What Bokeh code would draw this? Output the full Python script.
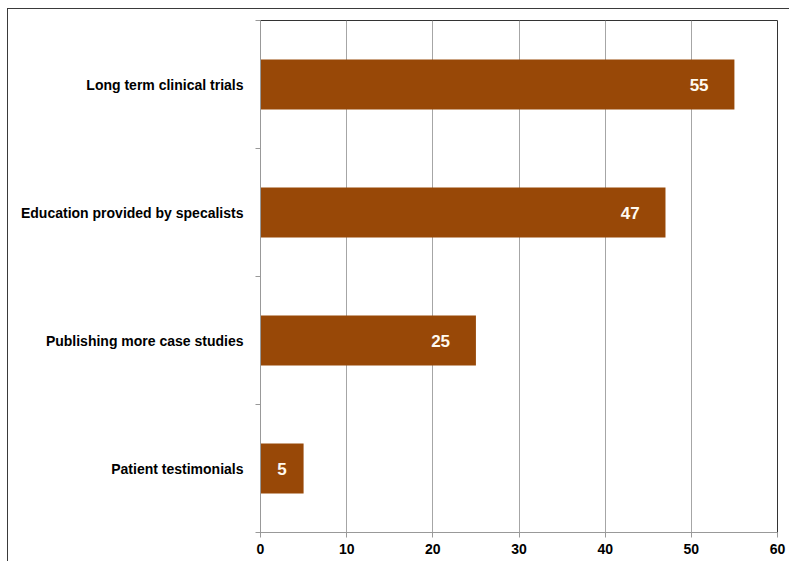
import numpy as np
from bokeh.plotting import figure
from bokeh.models import ColumnDataSource, FixedTicker, Range1d
from bokeh.core.properties import value
from bokeh.embed import file_html
from bokeh.resources import INLINE

# data (bottom to top)
categories = ["Patient testimonials", "Publishing more case studies",
              "Education provided by specalists", "Long term clinical trials"]
values = [5, 25, 47, 55]
x_ticks = [0, 10, 20, 30, 40, 50, 60]

ypos = np.arange(len(categories)) + 0.5
vals = np.array(values, dtype=float)
label_x = np.where(vals > 10, vals - 4.1, vals / 2)

src = ColumnDataSource(dict(y=ypos, v=vals, lx=label_x,
                            txt=[str(v) for v in values]))

p = figure(width=782, height=553, output_backend="svg", toolbar_location=None,
           x_range=Range1d(0, 60), y_range=Range1d(0, len(categories)),
           min_border_left=252, min_border_right=13, min_border_top=11,
           min_border_bottom=30)
p.margin = (8, 0, 0, 7)
p.styles = {"border-top": "1px solid #3a3a3a", "border-left": "1px solid #3a3a3a",
            "box-sizing": "border-box"}

p.hbar(y="y", right="v", left=0, height=0.39, source=src,
       fill_color="#984807", line_color=None)
p.text(x="lx", y="y", text="txt", source=src, text_align="center",
       text_baseline="middle", text_color="#fffaf0",
       text_font=value("Liberation Sans"), text_font_style="bold",
       text_font_size="17px")

p.outline_line_color = "#333333"
p.outline_line_width = 1

# x axis
p.xaxis.ticker = FixedTicker(ticks=x_ticks)
p.xaxis.axis_line_color = "#999999"
p.xaxis.major_tick_line_color = "#999999"
p.xaxis.major_tick_out = 5
p.xaxis.major_tick_in = 0
p.xaxis.minor_tick_line_color = None
p.xaxis.major_label_text_font = "Liberation Sans"
p.xaxis.major_label_text_font_style = "bold"
p.xaxis.major_label_text_font_size = "14px"
p.xaxis.major_label_text_color = "#000000"
p.xaxis.major_label_standoff = 6

# y axis: labels at centers, ticks at boundaries
p.yaxis.ticker = FixedTicker(ticks=list(ypos),
                             minor_ticks=list(range(len(categories) + 1)))
p.yaxis.major_label_overrides = {float(y): c for y, c in zip(ypos, categories)}
p.yaxis.axis_line_color = "#999999"
p.yaxis.major_tick_line_color = None
p.yaxis.minor_tick_line_color = "#999999"
p.yaxis.minor_tick_out = 5
p.yaxis.minor_tick_in = 0
p.yaxis.major_label_text_font = "Liberation Sans"
p.yaxis.major_label_text_font_style = "bold"
p.yaxis.major_label_text_font_size = "14px"
p.yaxis.major_label_text_color = "#000000"
p.yaxis.major_label_standoff = 11

p.xgrid.grid_line_color = "#a6a6a6"
p.ygrid.grid_line_color = None

open("out.html", "w").write(file_html(p, INLINE))
